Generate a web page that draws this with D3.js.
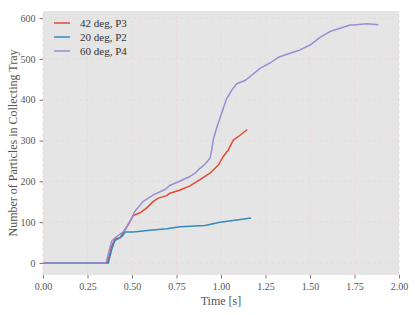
<!DOCTYPE html>
<html>
<head>
<meta charset="utf-8">
<script src="https://cdn.jsdelivr.net/npm/d3@7"></script>
<style>
  body { margin: 0; background: #fff; }
  svg { display: block; }
</style>
</head>
<body>
<svg id="chart" width="415" height="315"></svg>
<script>
// series: [time (s), particle count]
const p3_42deg = [
    [0, 0], [0.361, 0], [0.386, 41], [0.404, 58], [0.433, 62], [0.451, 74],
    [0.479, 94], [0.507, 116], [0.545, 123], [0.583, 135], [0.620, 151],
    [0.648, 159], [0.695, 165], [0.713, 171], [0.770, 179], [0.826, 189],
    [0.882, 204], [0.938, 220], [0.985, 240], [1.013, 261], [1.041, 277],
    [1.069, 301], [1.107, 313], [1.148, 327]
];
const p2_20deg = [
    [0, 0], [0.367, 0], [0.386, 33], [0.404, 55], [0.433, 62], [0.448, 67],
    [0.461, 76], [0.507, 76], [0.601, 80], [0.695, 84], [0.770, 89],
    [0.910, 92], [0.994, 100], [1.069, 104], [1.169, 110]
];
const p4_60deg = [
    [0, 0], [0.354, 0], [0.386, 54], [0.408, 63], [0.451, 76], [0.489, 102],
    [0.517, 127], [0.563, 151], [0.620, 167], [0.685, 180], [0.713, 190],
    [0.770, 201], [0.826, 212], [0.854, 220], [0.882, 232], [0.910, 242],
    [0.938, 257], [0.948, 277], [0.957, 303], [0.972, 326], [0.994, 355],
    [1.032, 403], [1.060, 423], [1.088, 439], [1.135, 447], [1.172, 460],
    [1.219, 477], [1.275, 490], [1.322, 504], [1.388, 514], [1.444, 522],
    [1.500, 534], [1.556, 553], [1.612, 567], [1.669, 575], [1.725, 583],
    [1.762, 584], [1.819, 586], [1.884, 584]
];
const seriesNames = ["42 deg, P3", "20 deg, P2", "60 deg, P4"];
const xTicks = [0, 0.25, 0.5, 0.75, 1, 1.25, 1.5, 1.75, 2];
const yTicks = [0, 100, 200, 300, 400, 500, 600];

const colors = ["#E24A33", "#348ABD", "#988ED5"];
const series = [p3_42deg, p2_20deg, p4_60deg];

const margin = { left: 43, right: 16, top: 11, bottom: 40 },
    width = 415, height = 315,
    serif = "'Liberation Serif', 'DejaVu Serif', serif";

const svg = d3.select("#chart");

var x = d3.scaleLinear().domain([0, 2]).range([margin.left, width - margin.right]),
    y = d3.scaleLinear().domain([-29.4, 617.4]).range([height - margin.bottom, margin.top]);

// panel background
svg.append("rect")
    .attr("x", x.range()[0]).attr("y", y.range()[1])
    .attr("width", x.range()[1] - x.range()[0])
    .attr("height", y.range()[0] - y.range()[1])
    .attr("fill", "#E5E5E5");

// grid
var grid = svg.append("g").attr("class", "grid")
    .attr("stroke", "#EDD5D5").attr("stroke-width", 0.8)
    .attr("stroke-dasharray", "3,3");
grid.selectAll(".gx").data(xTicks).enter().append("line")
    .attr("x1", d => x(d)).attr("x2", d => x(d))
    .attr("y1", y.range()[0]).attr("y2", y.range()[1]);
grid.selectAll(".gy").data(yTicks).enter().append("line")
    .attr("x1", x.range()[0]).attr("x2", x.range()[1])
    .attr("y1", d => y(d)).attr("y2", d => y(d));

// axes
var xAxis = svg.append("g")
    .attr("transform", "translate(0," + y.range()[0] + ")")
    .call(d3.axisBottom(x).tickValues(xTicks).tickFormat(d3.format(".2f"))
        .tickSize(3.5).tickPadding(4));
var yAxis = svg.append("g")
    .attr("transform", "translate(" + x.range()[0] + ",0)")
    .call(d3.axisLeft(y).tickValues(yTicks).tickSize(3.5).tickPadding(4));

[xAxis, yAxis].forEach(function (a) {
    a.select(".domain").remove();
    a.selectAll(".tick line").attr("stroke", "#555").attr("stroke-width", 0.8);
    a.selectAll(".tick text")
        .attr("fill", "#555")
        .style("font", "10px " + serif);
});

// lines
var line = d3.line().x(d => x(d[0])).y(d => y(d[1]));
svg.append("g").attr("class", "lines")
    .selectAll("path").data(series).enter().append("path")
    .attr("d", line)
    .attr("fill", "none")
    .attr("stroke", (d, i) => colors[i])
    .attr("stroke-width", 1.5)
    .attr("stroke-linejoin", "round");

// axis labels
svg.append("text")
    .attr("x", (x.range()[0] + x.range()[1]) / 2).attr("y", 305)
    .attr("text-anchor", "middle")
    .attr("fill", "#555")
    .style("font", "12px " + serif)
    .text("Time [s]");
svg.append("text")
    .attr("transform", "translate(17," + (y.range()[0] + y.range()[1]) / 2 + ") rotate(-90)")
    .attr("text-anchor", "middle")
    .attr("fill", "#555")
    .style("font", "12px " + serif)
    .text("Number of Particles in Collecting Tray");

// legend
var legend = svg.append("g").attr("class", "legend");
seriesNames.forEach(function (name, i) {
    let _y = 23 + i * 14;
    legend.append("line")
        .attr("x1", 54).attr("x2", 70).attr("y1", _y).attr("y2", _y)
        .attr("stroke", colors[i]).attr("stroke-width", 1.5);
    legend.append("text")
        .attr("x", 80).attr("y", _y).attr("dy", "0.35em")
        .attr("fill", "#333")
        .style("font", "11px " + serif)
        .text(name);
});
</script>
</body>
</html>
